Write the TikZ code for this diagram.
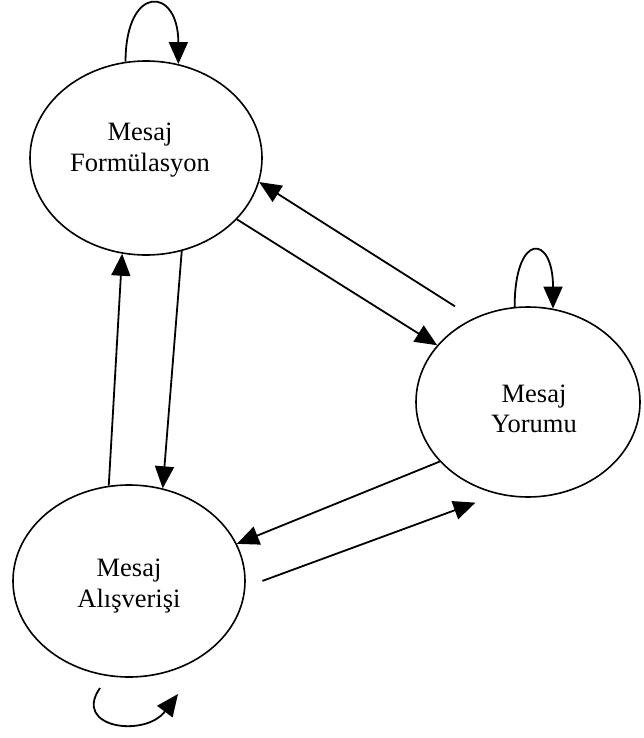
\documentclass[tikz,border=0pt]{standalone}
\usepackage{fontspec}
\setmainfont{Liberation Serif}
\usetikzlibrary{shapes.geometric,arrows.meta}
\tikzset{
  state/.style={draw, ellipse, line width=1.6pt, inner sep=0pt},
  lbl/.style={align=center, inner sep=0pt, font=\fontsize{26.5}{30.5}\selectfont},
  arr/.style={line width=1.8pt, -{Triangle[length=22pt,width=19pt]}},
}
\begin{document}
\begin{tikzpicture}[x=1pt,y=1pt]
\fill[white] (0,0) rectangle (644,-738);
\useasboundingbox (0,0) rectangle (644,-738);
% states
\node[state, minimum width=232pt, minimum height=194pt] (F) at (146,-158) {};
\node[state, minimum width=224pt, minimum height=190pt] (Y) at (528,-402) {};
\node[state, minimum width=232pt, minimum height=192pt] (A) at (129,-581) {};
% labels
\node[lbl] (Ft) at (140,-150) {Mesaj\\Formülasyon};
\node[lbl] (Yt) at (534,-409) {Mesaj\\Yorumu};
\node[lbl] (At) at (129,-586) {Mesaj\\Alışverişi};
% connectors
\draw[arr] (F.-34) -- (Y.148);
\draw[arr, shorten <=22pt] (Y.123) -- (F.-12);
\draw[arr] (F.-69) -- (A.70);
\draw[arr] (A.102) -- (F.-104);
\draw[arr] (Y.-146) -- (A.19);
\draw[arr, shorten <=18pt, shorten >=24pt] (A.-3) -- (Y.-108);
% self loops
\draw[arr] (F.102) .. controls +(0,78) and +(0,78) .. (F.71);
\draw[arr] (Y.98) .. controls +(0,75) and +(0,75) .. (Y.75);
\coordinate (al1) at (100,-688);
\coordinate (al2) at (178,-694);
\draw[arr] (al1) .. controls (72,-728) and (145,-738) .. (al2);
\end{tikzpicture}
\end{document}
